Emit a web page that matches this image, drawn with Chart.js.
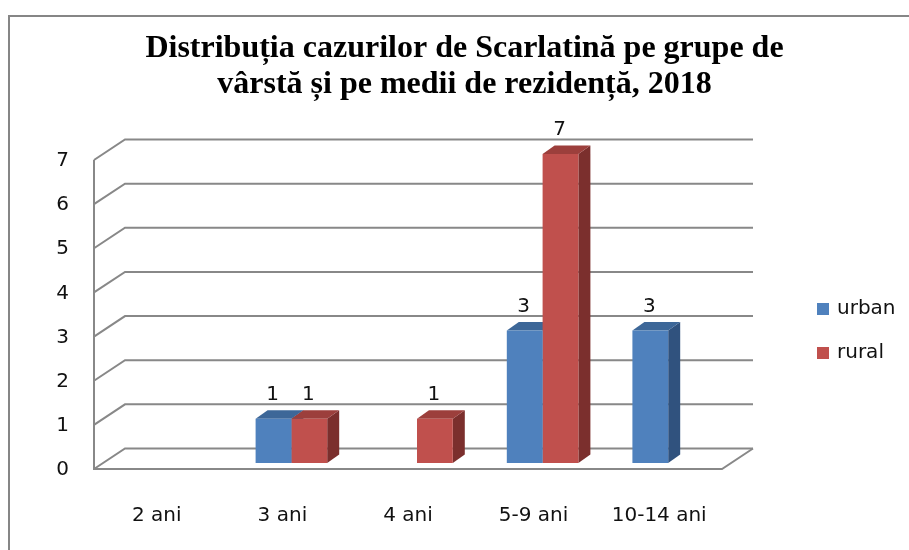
<!DOCTYPE html>
<html>
<head>
<meta charset="utf-8">
<script src="https://cdn.jsdelivr.net/npm/chart.js@4/dist/chart.umd.min.js"></script>
<style>
  html, body { margin: 0; padding: 0; background: #fff; }
  #wrap { width: 909px; height: 550px; position: relative; }
</style>
</head>
<body>
<div id="wrap"><canvas id="chart"></canvas></div>
<script>
// Data
const titleLines = ['Distribuția cazurilor de Scarlatină pe grupe de', 'vârstă și pe medii de rezidență, 2018'];
const categories = ['2 ani', '3 ani', '4 ani', '5-9 ani', '10-14 ani'];
const urban = [0, 1, 0, 3, 3];
const rural = [0, 1, 1, 7, 0];
const yMax = 7;

const FONT = 'DejaVu Sans';

// 3D look: shade colours for each series [front, top, side]
const shades = [
  ['#4F81BD', '#3D6798', '#30527E'],
  ['#C0504D', '#9C3F3C', '#7B2F2D']
];

// offsets of the front/back planes against the bar plane
const FRONT_DX = -9, FRONT_DY = 6;
const DEPTH_DX = 31, DEPTH_DY = -20.5;
const BAR_DX = 12, BAR_DY = -8.5;

const chart3d = {
  id: 'chart3d',
  beforeDraw(chart) {
    const ctx = chart.ctx;
    ctx.save();
    ctx.fillStyle = '#fff';
    ctx.fillRect(0, 0, chart.width, chart.height);
    // outer frame (cut off on the right and bottom)
    ctx.strokeStyle = '#868686';
    ctx.lineWidth = 2;
    ctx.beginPath();
    ctx.moveTo(9, chart.height);
    ctx.lineTo(9, 16);
    ctx.lineTo(chart.width, 16);
    ctx.stroke();
    ctx.restore();
  },
  beforeDatasetsDraw(chart) {
    const ctx = chart.ctx;
    const area = chart.chartArea;
    const y = chart.scales.y;
    const fl = area.left + FRONT_DX, fr = area.right + FRONT_DX;
    ctx.save();
    ctx.strokeStyle = '#888';
    ctx.lineWidth = 2;
    // gridlines: front-left diagonal + back wall line
    for (let v = 0; v <= yMax; v++) {
      const py = y.getPixelForValue(v) + FRONT_DY;
      ctx.beginPath();
      ctx.moveTo(fl, py);
      ctx.lineTo(fl + DEPTH_DX, py + DEPTH_DY);
      ctx.lineTo(fr + DEPTH_DX, py + DEPTH_DY);
      ctx.stroke();
    }
    // front-left edge and floor
    const y0 = y.getPixelForValue(0) + FRONT_DY;
    const y7 = y.getPixelForValue(yMax) + FRONT_DY;
    ctx.beginPath();
    ctx.moveTo(fl, y7);
    ctx.lineTo(fl, y0);
    ctx.lineTo(fr, y0);
    ctx.lineTo(fr + DEPTH_DX, y0 + DEPTH_DY);
    ctx.stroke();

    // top and side faces of the bars (front faces are drawn by Chart.js)
    chart.data.datasets.forEach((ds, di) => {
      const meta = chart.getDatasetMeta(di);
      meta.data.forEach((bar, i) => {
        if (!ds.data[i]) return;
        const p = bar.getProps(['x', 'y', 'base', 'width'], true);
        const l = p.x - p.width / 2, r = p.x + p.width / 2;
        ctx.fillStyle = shades[di][2];
        ctx.beginPath();
        ctx.moveTo(r, p.y);
        ctx.lineTo(r + BAR_DX, p.y + BAR_DY);
        ctx.lineTo(r + BAR_DX, p.base + BAR_DY);
        ctx.lineTo(r, p.base);
        ctx.closePath();
        ctx.fill();
        ctx.fillStyle = shades[di][1];
        ctx.beginPath();
        ctx.moveTo(l, p.y);
        ctx.lineTo(l + BAR_DX, p.y + BAR_DY);
        ctx.lineTo(r + BAR_DX, p.y + BAR_DY);
        ctx.lineTo(r, p.y);
        ctx.closePath();
        ctx.fill();
      });
    });
    ctx.restore();
  },
  afterDatasetsDraw(chart) {
    const ctx = chart.ctx;
    ctx.save();
    ctx.font = '20px "' + FONT + '"';
    ctx.fillStyle = '#111';
    ctx.textAlign = 'center';
    ctx.textBaseline = 'middle';
    // value labels
    chart.data.datasets.forEach((ds, di) => {
      chart.getDatasetMeta(di).data.forEach((bar, i) => {
        if (!ds.data[i]) return;
        const p = bar.getProps(['x', 'y'], true);
        ctx.fillText(String(ds.data[i]), p.x - 1, p.y - 24);
      });
    });
    // legend
    ctx.textAlign = 'left';
    chart.data.datasets.forEach((ds, di) => {
      const cy = 309 + di * 44;
      ctx.fillStyle = ds.backgroundColor;
      ctx.fillRect(817, cy - 6, 12, 12);
      ctx.fillStyle = '#111';
      ctx.fillText(ds.label, 837, cy);
    });
    ctx.restore();
  }
};

new Chart(document.getElementById('chart'), {
  type: 'bar',
  data: {
    labels: categories,
    datasets: [
      { label: 'urban', data: urban, backgroundColor: shades[0][0], borderWidth: 0 },
      { label: 'rural', data: rural, backgroundColor: shades[1][0], borderWidth: 0 }
    ]
  },
  options: {
    responsive: true,
    maintainAspectRatio: false,
    animation: false,
    layout: { padding: { top: 30, left: 20, right: 0, bottom: 26 } },
    datasets: {
      bar: { categoryPercentage: 0.57, barPercentage: 1 }
    },
    plugins: {
      legend: { display: false },
      tooltip: { enabled: false },
      title: {
        display: true,
        text: titleLines,
        color: '#000',
        font: { family: 'Liberation Serif', size: 32, weight: 'bold', lineHeight: 36 / 32 },
        padding: { top: 1, bottom: 51 }
      }
    },
    scales: {
      x: {
        grid: { display: false, drawTicks: false },
        border: { display: false },
        ticks: {
          color: '#111',
          font: { family: FONT, size: 20 },
          padding: 41,
          labelOffset: FRONT_DX,
          maxRotation: 0,
          autoSkip: false
        },
        afterFit(scale) { scale.height = 61; }
      },
      y: {
        min: 0,
        max: yMax,
        grid: { display: false, drawTicks: false },
        border: { display: false },
        ticks: {
          stepSize: 1,
          color: '#111',
          font: { family: FONT, size: 20 },
          padding: 34,
          labelOffset: 7
        },
        afterFit(scale) { scale.width = 83; }
      },
      yr: {
        position: 'right',
        display: true,
        grid: { display: false, drawTicks: false },
        border: { display: false },
        ticks: { display: false },
        afterFit(scale) { scale.width = 178; }
      }
    }
  },
  plugins: [chart3d]
});
</script>
</body>
</html>
